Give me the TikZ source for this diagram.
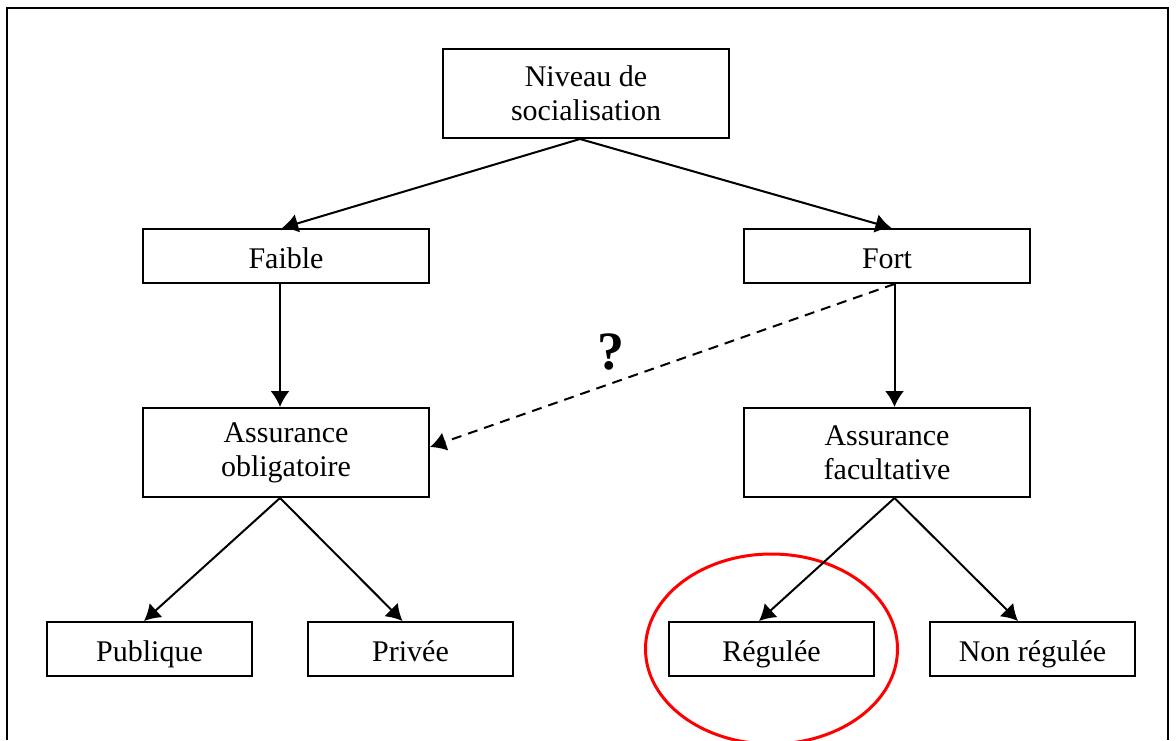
\documentclass[tikz,border=0pt]{standalone}
\usepackage{fontspec}
\setmainfont{Liberation Serif}
\usetikzlibrary{arrows.meta,positioning}
\tikzset{base/.style={draw,line width=1pt,align=center,inner sep=0pt,font=\fontsize{15}{17}\selectfont},
 box/.style={base,minimum width=143pt,minimum height=27pt,text height=12pt,text depth=0pt},
 small/.style={box,minimum width=102.5pt},tall/.style={base,minimum width=143pt,minimum height=44.5pt},
 arr/.style={-{Latex[length=8pt,width=9.5pt]},line width=1pt}}

\begin{document}
\begin{tikzpicture}[x=0.5pt,y=-0.5pt]
\useasboundingbox (0,0) rectangle (1176,740);
\draw[line width=1pt] (7,740)--(7,8)--(1168,8)--(1168,740);
\node[tall] (niveau) at (586,93.5) {Niveau de\\socialisation};
\node[box,below=44.5pt of niveau,xshift=-150pt] (faible) {Faible};
\node[box,right=156.5pt of faible] (fort) {Fort};
\node[tall,below=61.5pt of faible] (oblig) {Assurance\\obligatoire};
\node[tall,below=61.5pt of fort] (facult) {Assurance\\facultative};
\node[small,below=61.5pt of oblig,xshift=-68.25pt] (publique) {Publique};
\node[small,right=27pt of publique] (privee) {Privée};
\node[small,below=61.5pt of facult,xshift=-57.75pt] (regulee) {Régulée};
\node[small,right=27pt of regulee] (nonreg) {Non régulée};
\draw[red,line width=1.5pt] (regulee) ellipse [x radius=63pt,y radius=47.5pt];
\draw[arr] ([xshift=-3pt]niveau.south)--([xshift=-2pt]faible.north);
\draw[arr] ([xshift=-3pt]niveau.south)--([xshift=2.25pt]fort.north);
\draw[arr] ([xshift=-3pt]faible.south)--([xshift=-3pt]oblig.north);
\draw[arr] ([xshift=3.75pt]fort.south)--([xshift=3.75pt]facult.north);
\draw[arr,dash pattern=on 5pt off 3.5pt] ([xshift=3.75pt]fort.south)--([yshift=2.75pt]oblig.east)
 node[pos=0.61,above=3pt,font=\fontsize{27}{30}\selectfont\bfseries] (quest) {?};
\draw[arr] ([xshift=-3pt]oblig.south)--([xshift=-2.75pt]publique.north);
\draw[arr] ([xshift=-3pt]oblig.south)--([xshift=-4pt]privee.north);
\draw[arr] ([xshift=3.75pt]facult.south)--([xshift=-6.25pt]regulee.north);
\draw[arr] ([xshift=3.75pt]facult.south)--([xshift=-7.25pt]nonreg.north);
\end{tikzpicture}
\end{document}
